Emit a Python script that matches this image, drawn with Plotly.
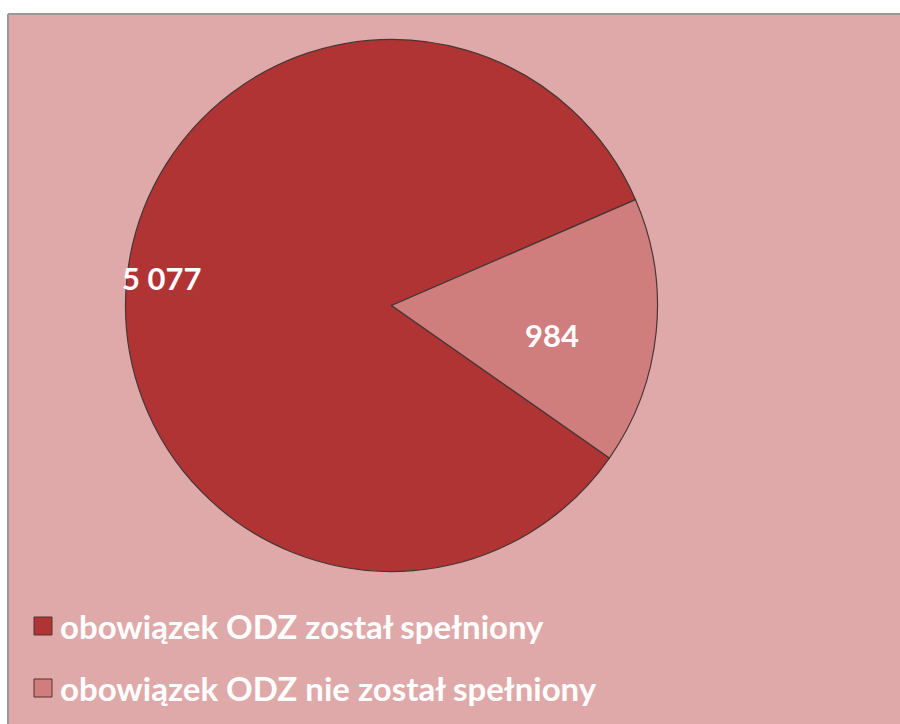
import plotly.graph_objects as go

# data
labels = ["obowiązek ODZ został spełniony", "obowiązek ODZ nie został spełniony"]
values = [5077, 984]
colors = ["#b03434", "#cf7d7d"]

W, H = 900, 724
bg = "#e0a9a9"
font = "Lato"


def px(x):
    return x / W


def py(y):
    return 1 - y / H


cx, cy, r = 391.5, 305.5, 266

fig = go.Figure(go.Pie(
    labels=labels,
    values=values,
    sort=False,
    direction="counterclockwise",
    rotation=125,
    marker=dict(colors=colors, line=dict(color="#4a3535", width=1.2)),
    textinfo="none",
    hoverinfo="label+value",
    showlegend=False,
    domain=dict(x=[px(cx - r), px(cx + r)], y=[py(cy + r), py(cy - r)]),
))

shapes = [
    # white strips above and left of the chart frame
    dict(type="rect", xref="paper", yref="paper", layer="below",
         x0=0, x1=1, y0=py(14), y1=1, fillcolor="white", line_width=0),
    dict(type="rect", xref="paper", yref="paper", layer="below",
         x0=0, x1=px(8), y0=0, y1=1, fillcolor="white", line_width=0),
    # frame: top and left edges only, the rest runs off the page
    dict(type="line", xref="paper", yref="paper", layer="below",
         x0=px(8), x1=1, y0=py(14), y1=py(14), line=dict(color="#989898", width=2)),
    dict(type="line", xref="paper", yref="paper", layer="below",
         x0=px(8), x1=px(8), y0=0, y1=py(14), line=dict(color="#989898", width=2)),
]

annotations = []

# value labels inside the slices
label_pos = [(161, 278), (552, 335)]
for v, (x, y) in zip(values, label_pos):
    annotations.append(dict(
        x=px(x), y=py(y), xref="paper", yref="paper", showarrow=False,
        text="<b>" + f"{v:,}".replace(",", " ") + "</b>",
        font=dict(family=font, size=31, color="white"),
        xanchor="center", yanchor="middle"))

# legend drawn by hand (rows are far apart)
rows_y = [626, 688]
for lab, col, y in zip(labels, colors, rows_y):
    shapes.append(dict(type="rect", xref="paper", yref="paper",
                       x0=px(34), x1=px(52), y0=py(y + 9), y1=py(y - 9),
                       fillcolor=col, line=dict(color="#5a3030", width=1)))
    annotations.append(dict(
        x=px(58), y=py(y), xref="paper", yref="paper", showarrow=False,
        text="<b>" + lab + "</b>",
        font=dict(family=font, size=33, color="white"),
        xanchor="left", yanchor="middle"))

fig.update_layout(
    width=W, height=H,
    margin=dict(l=0, r=0, t=0, b=0),
    paper_bgcolor=bg,
    plot_bgcolor=bg,
    shapes=shapes,
    annotations=annotations,
)

# drop the default body margin so the figure fills the window
fig.write_html("out.html", config={"displayModeBar": False},
               post_script="document.body.style.margin = '0';")
